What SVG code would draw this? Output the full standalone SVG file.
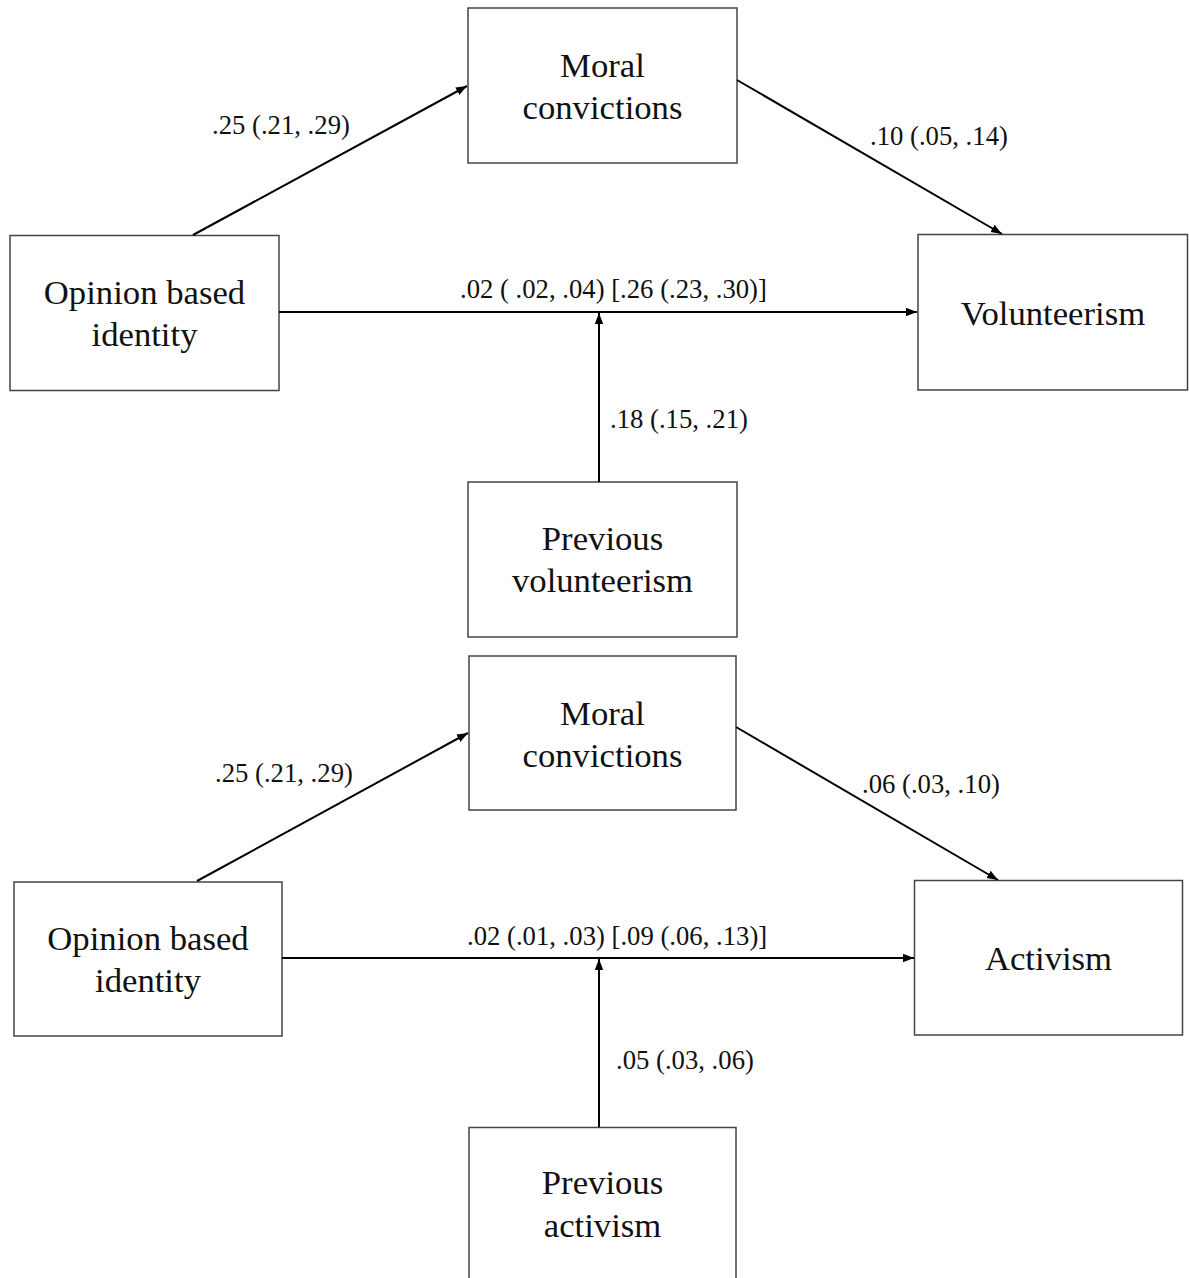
<svg xmlns="http://www.w3.org/2000/svg" width="1189" height="1278" viewBox="0 0 1189 1278">
  <style>
    .box { fill: #ffffff; stroke: #444444; stroke-width: 1.5; }
    .lbl { font-family: "Liberation Serif", "Times New Roman", serif; font-size: 34.7px; fill: #111111; text-anchor: middle; }
    .num { font-family: "Liberation Serif", "Times New Roman", serif; font-size: 26.7px; fill: #111111; }
    .arr { stroke: #000000; stroke-width: 2; fill: none; marker-end: url(#ah); }
  </style>
  <defs>
    <marker id="ah" markerUnits="userSpaceOnUse" markerWidth="12" markerHeight="10" refX="11" refY="5" orient="auto">
      <path d="M0,0.8 L11,5 L0,9.2 Z" fill="#000000"/>
    </marker>
  </defs>
  <rect width="1189" height="1278" fill="#ffffff"/>

  <!-- Top diagram -->
  <g id="top-moral">
    <rect class="box" x="468" y="8" width="269" height="155"/>
    <text class="lbl" x="602.5" y="77">Moral</text>
    <text class="lbl" x="602.5" y="119">convictions</text>
  </g>
  <g id="top-opinion">
    <rect class="box" x="10" y="235.5" width="269" height="155"/>
    <text class="lbl" x="144.5" y="304">Opinion based</text>
    <text class="lbl" x="144.5" y="346">identity</text>
  </g>
  <g id="top-volunteerism">
    <rect class="box" x="918" y="234.5" width="269.5" height="155.5"/>
    <text class="lbl" x="1053" y="325">Volunteerism</text>
  </g>
  <g id="top-previous">
    <rect class="box" x="468" y="482" width="269" height="155"/>
    <text class="lbl" x="602.5" y="550">Previous</text>
    <text class="lbl" x="602.5" y="592">volunteerism</text>
  </g>

  <!-- Bottom diagram -->
  <g id="bot-moral">
    <rect class="box" x="469" y="656" width="267" height="154"/>
    <text class="lbl" x="602.5" y="725">Moral</text>
    <text class="lbl" x="602.5" y="767">convictions</text>
  </g>
  <g id="bot-opinion">
    <rect class="box" x="14" y="882" width="268" height="154"/>
    <text class="lbl" x="148" y="950">Opinion based</text>
    <text class="lbl" x="148" y="992">identity</text>
  </g>
  <g id="bot-activism">
    <rect class="box" x="914.5" y="880.5" width="268" height="154.5"/>
    <text class="lbl" x="1048.5" y="970">Activism</text>
  </g>
  <g id="bot-previous">
    <rect class="box" x="469" y="1127.5" width="267" height="200"/>
    <text class="lbl" x="602.5" y="1194">Previous</text>
    <text class="lbl" x="602.5" y="1237">activism</text>
  </g>

  <g id="connectors">
    <line class="arr" x1="193" y1="235" x2="467" y2="86"/>
    <line class="arr" x1="737" y1="80" x2="1002" y2="234"/>
    <line class="arr" x1="279" y1="312" x2="917" y2="312"/>
    <line class="arr" x1="599" y1="482" x2="599" y2="313"/>

    <line class="arr" x1="197" y1="881" x2="468" y2="733"/>
    <line class="arr" x1="736" y1="727" x2="998" y2="880"/>
    <line class="arr" x1="282" y1="958" x2="914" y2="958"/>
    <line class="arr" x1="599" y1="1127" x2="599" y2="959"/>
  </g>

  <g id="labels">
    <text class="num" x="212" y="134">.25 (.21, .29)</text>
    <text class="num" x="870" y="145">.10 (.05, .14)</text>
    <text class="num" x="460" y="298">.02 ( .02, .04) [.26 (.23, .30)]</text>
    <text class="num" x="610" y="428">.18 (.15, .21)</text>

    <text class="num" x="215" y="782">.25 (.21, .29)</text>
    <text class="num" x="862" y="793">.06 (.03, .10)</text>
    <text class="num" x="467" y="945">.02 (.01, .03) [.09 (.06, .13)]</text>
    <text class="num" x="616" y="1069">.05 (.03, .06)</text>
  </g>
</svg>
